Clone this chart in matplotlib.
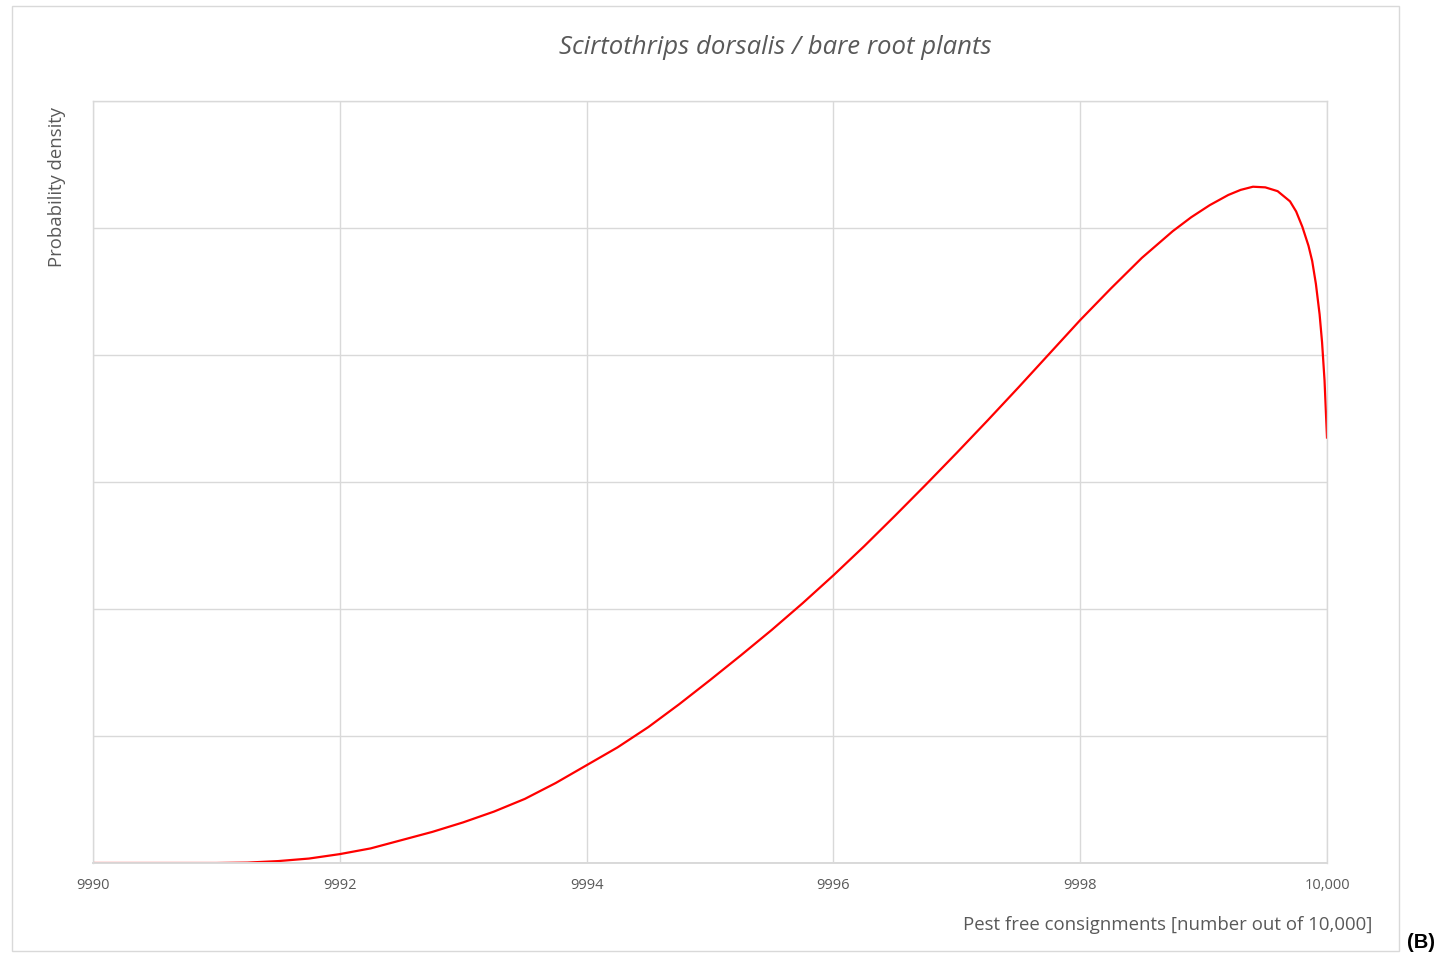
import matplotlib
matplotlib.use("Agg")
import matplotlib.pyplot as plt
from matplotlib.patches import Rectangle

# Data (density in gridline units)
consignments = [9990.0, 9990.5, 9991.0, 9991.25, 9991.5, 9991.75, 9992.0, 9992.25,
                9992.5, 9992.75, 9993.0, 9993.25, 9993.5, 9993.75, 9994.0, 9994.25,
                9994.5, 9994.75, 9995.0, 9995.25, 9995.5, 9995.75, 9996.0, 9996.25,
                9996.5, 9996.75, 9997.0, 9997.25, 9997.5, 9997.75, 9998.0, 9998.25,
                9998.5, 9998.75, 9998.9, 9999.05, 9999.2, 9999.3, 9999.4, 9999.5,
                9999.6, 9999.7, 9999.75, 9999.8, 9999.85, 9999.88, 9999.91, 9999.94,
                9999.96, 9999.98, 10000.0]
density = [0.0, 0.0, 0.0, 0.003, 0.015, 0.035, 0.07, 0.115,
           0.18, 0.245, 0.32, 0.405, 0.505, 0.63, 0.77, 0.91,
           1.07, 1.25, 1.44, 1.635, 1.835, 2.045, 2.265, 2.495,
           2.735, 2.98, 3.23, 3.485, 3.745, 4.01, 4.275, 4.525,
           4.765, 4.975, 5.085, 5.18, 5.26, 5.30, 5.325, 5.32,
           5.29, 5.21, 5.13, 5.01, 4.86, 4.74, 4.56, 4.32,
           4.10, 3.80, 3.35]

xticks = [9990, 9992, 9994, 9996, 9998, 10000]
xtick_labels = ["9990", "9992", "9994", "9996", "9998", "10,000"]
yticks = [0, 1, 2, 3, 4, 5, 6]

title = "Scirtothrips dorsalis / bare root plants"
xlabel = "Pest free consignments [number out of 10,000]"
ylabel = "Probability density"

W, H = 1443, 957
fig = plt.figure(figsize=(W / 100, H / 100), dpi=100)
fig.patch.set_facecolor("white")

grid_c = "#d9d9d9"
text_c = "#595959"
font = "Open Sans"

# outer chart border
fig.patches.append(Rectangle((12 / W, 1 - 951 / H), (1399 - 12) / W, (951 - 6) / H,
                             transform=fig.transFigure, fill=False,
                             edgecolor=grid_c, linewidth=1.0))

ax = fig.add_axes([93 / W, 1 - 863 / H, (1327 - 93) / W, (863 - 101) / H])
ax.plot(consignments, density, color="#ff0000", linewidth=1.6,
        solid_joinstyle="round", antialiased=True)
ax.set_xlim(9990, 10000)
ax.set_ylim(0, 6)
ax.set_xticks(xticks)
ax.set_xticklabels(xtick_labels, fontfamily=font, fontsize=10.5, color=text_c)
ax.set_yticks(yticks)
ax.set_yticklabels([])
ax.tick_params(axis="both", length=0)
ax.tick_params(axis="x", pad=11)
ax.grid(True, color=grid_c, linewidth=1.0)
ax.set_axisbelow(True)
for s in ax.spines.values():
    s.set_color(grid_c)
    s.set_linewidth(1.0)
ax.spines["bottom"].set_linewidth(1.4)

fig.text(775 / W, 1 - 47 / H, title, ha="center", va="center", fontfamily=font,
         fontstyle="italic", fontsize=18.5, color=text_c)
fig.text(1372 / W, 1 - 925 / H, xlabel, ha="right", va="center", fontfamily=font,
         fontsize=13.4, color=text_c)
fig.text(57 / W, 1 - 107 / H, ylabel, ha="center", va="top", rotation=90,
         fontfamily=font, fontsize=13.3, color=text_c)
fig.text(1421 / W, 1 - 943 / H, "(B)", ha="center", va="center",
         fontfamily="Liberation Sans", fontweight="bold", fontsize=14.5, color="black")

fig.savefig("out.png", dpi=100, facecolor="white")
